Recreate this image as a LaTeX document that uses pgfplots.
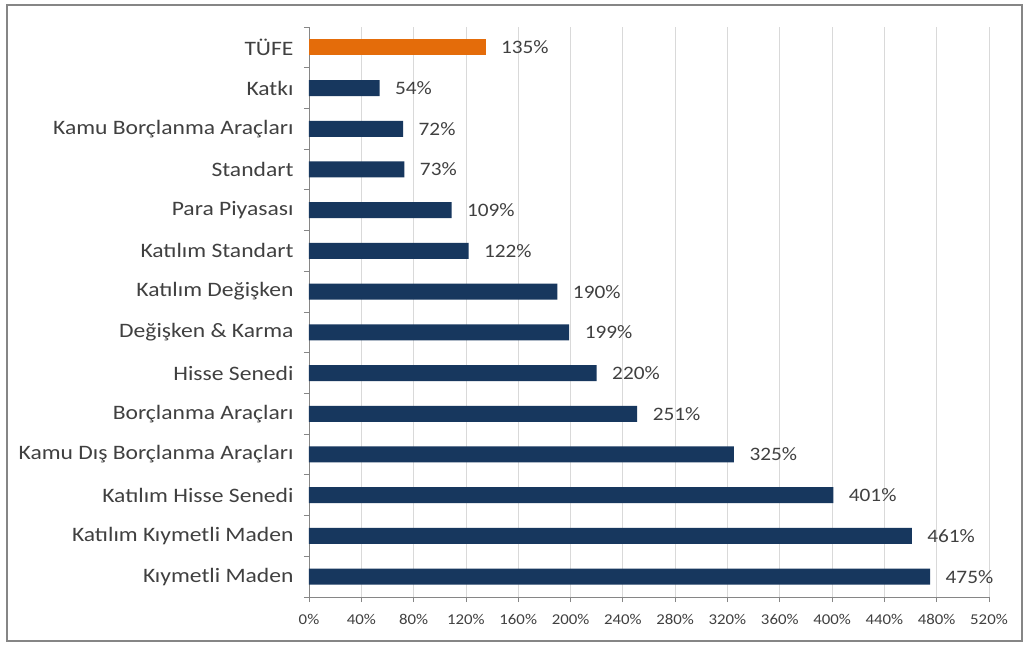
\documentclass[border=0pt]{standalone}
\usepackage{pgfplots}
\pgfplotsset{compat=1.18}
\usepackage{fontspec}
\setmainfont{Carlito}
\newfontfamily\lbl{Carlito}[FakeStretch=1.12]
\newfontfamily\lblw{Carlito}[FakeStretch=1.15]
\definecolor{navy}{HTML}{17375E}
\definecolor{orng}{HTML}{E46C0A}
\definecolor{txt}{HTML}{404040}
\definecolor{axgray}{HTML}{868686}
\definecolor{gridgray}{HTML}{D9D9D9}
\begin{document}
\begin{tikzpicture}[x=1pt,y=1pt]
\useasboundingbox (0,0) rectangle (1029,646);
\fill[white] (0,0) rectangle (1029,646);
\draw[line width=2pt, color=axgray] (7,5) rectangle (1022,641);
\begin{axis}[
  at={(309pt,49pt)}, anchor=south west,
  scale only axis, width=680pt, height=570pt,
  xmin=0, xmax=520, ymin=-0.5, ymax=13.5,
  axis x line*=bottom, axis y line*=left,
  axis line style={axgray, line width=0.8pt},
  tick align=outside,
  major tick length=5pt,
  tick style={axgray, line width=0.8pt},
  xtick={0,40,...,520},
  xticklabel={\pgfmathprintnumber{\tick}\%},
  xticklabel style={font=\lbl\fontsize{15}{17}\selectfont, text=txt, yshift=-9pt},
  xmajorgrids, major grid style={gridgray, line width=0.8pt},
  ytick={-0.5,0.5,...,13.5},
  yticklabels={},
  extra y ticks={0,1,...,13},
  extra y tick labels={Kıymetli Maden, Katılım Kıymetli Maden, Katılım Hisse Senedi, Kamu Dış Borçlanma Araçları, Borçlanma Araçları, Hisse Senedi, Değişken \& Karma, Katılım Değişken, Katılım Standart, Para Piyasası, Standart, Kamu Borçlanma Araçları, Katkı, TÜFE},
  extra y tick style={major tick length=0pt, yticklabel style={font=\lblw\fontsize{20.5}{24}\selectfont, text=txt, xshift=-12pt}},
  /pgf/number format/assume math mode=true,
  xbar, bar width=16pt, bar shift=0pt,
  nodes near coords={\pgfmathprintnumber{\pgfplotspointmeta}\%},
  nodes near coords style={font=\lbl\fontsize{19}{22}\selectfont, text=txt, anchor=west, xshift=12pt},
  point meta=x,
  clip=false,
]
\addplot[draw=none, fill=navy] coordinates {
(475,0) (461,1) (401,2) (325,3) (251,4) (220,5) (199,6) (190,7) (122,8) (109,9) (73,10) (72,11) (54,12)
};
\addplot[draw=none, fill=orng] coordinates {(135,13)};
\end{axis}
\end{tikzpicture}
\end{document}
